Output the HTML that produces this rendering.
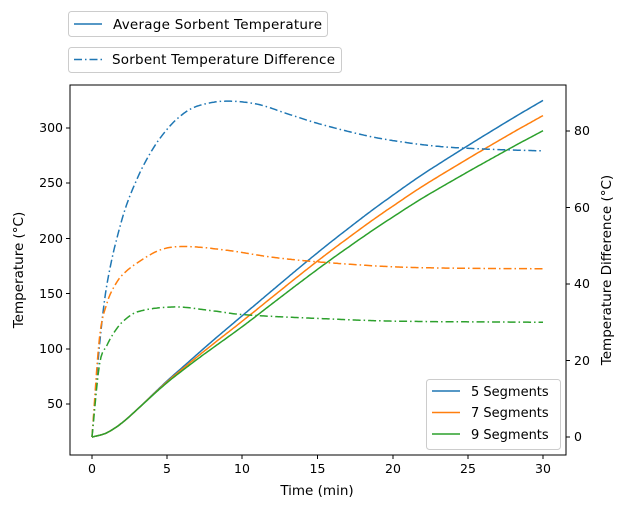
<!DOCTYPE html>
<html><head><meta charset="utf-8"><style>
body{margin:0;background:#fff;}
svg{font-family:"DejaVu Sans",sans-serif;}
</style></head><body>
<svg id="s" width="626" height="507" xmlns="http://www.w3.org/2000/svg">
<rect width="626" height="507" fill="#fff"/>
<g id="plot"></g>
<rect x="70" y="85" width="496" height="370" fill="none" stroke="#000" stroke-width="1"/>
<g font-size="12.5" fill="#000">
<g stroke="#000"><line x1="92" y1="455" x2="92" y2="459"/><line x1="167" y1="455" x2="167" y2="459"/><line x1="242" y1="455" x2="242" y2="459"/><line x1="317.5" y1="455" x2="317.5" y2="459"/><line x1="393" y1="455" x2="393" y2="459"/><line x1="468" y1="455" x2="468" y2="459"/><line x1="543" y1="455" x2="543" y2="459"/></g>
<g text-anchor="middle"><text x="92" y="473">0</text><text x="167" y="473">5</text><text x="242" y="473">10</text><text x="317.5" y="473">15</text><text x="393" y="473">20</text><text x="468" y="473">25</text><text x="543" y="473">30</text></g>
<text x="317" y="495" text-anchor="middle" font-size="13.5">Time (min)</text>
<g stroke="#000"><line x1="66" y1="404" x2="70" y2="404"/><line x1="66" y1="349" x2="70" y2="349"/><line x1="66" y1="293.5" x2="70" y2="293.5"/><line x1="66" y1="238.5" x2="70" y2="238.5"/><line x1="66" y1="183" x2="70" y2="183"/><line x1="66" y1="128" x2="70" y2="128"/></g>
<g text-anchor="end"><text x="63" y="408">50</text><text x="63" y="353">100</text><text x="63" y="298">150</text><text x="63" y="243">200</text><text x="63" y="187">250</text><text x="63" y="132">300</text></g>
<text transform="translate(23,270) rotate(-90)" text-anchor="middle" font-size="13.5">Temperature (°C)</text>
<g stroke="#000"><line x1="566" y1="437" x2="570" y2="437"/><line x1="566" y1="360.5" x2="570" y2="360.5"/><line x1="566" y1="284" x2="570" y2="284"/><line x1="566" y1="207.5" x2="570" y2="207.5"/><line x1="566" y1="131" x2="570" y2="131"/></g>
<g><text x="574" y="441">0</text><text x="574" y="365">20</text><text x="574" y="288">40</text><text x="574" y="212">60</text><text x="574" y="135">80</text></g>
<text transform="translate(611,270) rotate(-90)" text-anchor="middle" font-size="13.5">Temperature Difference (°C)</text>
</g>
<rect x="68.5" y="11.5" width="259" height="25" rx="3" fill="#fff" stroke="#ccc"/>
<line x1="74" y1="24" x2="102" y2="24" stroke="#1f77b4" stroke-width="1.5"/>
<text x="113" y="29" font-size="13.5" textLength="209">Average Sorbent Temperature</text>
<rect x="68.5" y="47.5" width="273" height="25" rx="3" fill="#fff" stroke="#ccc"/>
<line x1="74" y1="59.5" x2="102" y2="59.5" stroke="#1f77b4" stroke-width="1.5" stroke-dasharray="8,3,1.5,3"/>
<text x="112" y="64" font-size="13.5" textLength="223">Sorbent Temperature Difference</text>
<rect x="426.5" y="379.5" width="134" height="70" rx="3" fill="#fff" fill-opacity="0.8" stroke="#ccc"/>
<line x1="432" y1="391" x2="460" y2="391" stroke="#1f77b4" stroke-width="1.5"/>
<text x="471" y="396" font-size="13">5 Segments</text>
<line x1="432" y1="412.5" x2="460" y2="412.5" stroke="#ff7f0e" stroke-width="1.5"/>
<text x="471" y="417" font-size="13">7 Segments</text>
<line x1="432" y1="434" x2="460" y2="434" stroke="#2ca02c" stroke-width="1.5"/>
<text x="471" y="439" font-size="13">9 Segments</text>
</svg>
<script>
var X=t=>92+t*15.033, YL=T=>404-(T-50)*1.104, YR=v=>437-v*3.825;
function interp(pts,t){for(var i=0;i<pts.length-1;i++){if(t<=pts[i+1][0]){var a=pts[i],b=pts[i+1];
var p0=pts[Math.max(i-1,0)],p3=pts[Math.min(i+2,pts.length-1)];var u=(t-a[0])/(b[0]-a[0]);
var m1=(b[1]-p0[1])/(b[0]-p0[0])*(b[0]-a[0]),m2=(p3[1]-a[1])/(p3[0]-a[0])*(b[0]-a[0]);
var h00=2*u*u*u-3*u*u+1,h10=u*u*u-2*u*u+u,h01=-2*u*u*u+3*u*u,h11=u*u*u-u*u;
return h00*a[1]+h10*m1+h01*b[1]+h11*m2;}}return pts[pts.length-1][1];}
function path(pts,Y,col,dash){var d="";for(var t=0;t<=30.001;t+=0.1){d+=(d?"L":"M")+X(t).toFixed(1)+","+Y(interp(pts,t)).toFixed(1);}
return '<path d="'+d+'" fill="none" stroke="'+col+'" stroke-width="1.5"'+(dash?' stroke-dasharray="8,3,1.5,3"':'')+'/>';}
var avgB=[[0,20],[1,24],[2,33],[3,45],[4,58],[5,71],[6,83],[7,95],[8,107],[10,130],[12,153],[15,187],[18,219],[20,239],[22,258],[25,284],[28,309],[30,325]];
function scale(p,k){return p.map(q=>[q[0],20+(q[1]-20)*(1-(1-k)*Math.min(1,Math.max(0,(q[0]-3)/6)))]);}
var avgO=scale(avgB,0.955),avgG=scale(avgB,0.91);
var dB=[[0,0],[0.5,24],[1,40],[2,57],[3,67.5],[4,75],[5,80.5],[6,84.3],[7,86.5],[8.8,87.8],[11,87],[13,84.5],[15,82],[18,79],[20,77.5],[23,76],[26,75.3],[30,74.8]];
var dO=[[0,0],[0.5,26],[1,35],[1.5,39.5],[2,42.3],[3,45.5],[4.6,49],[6.2,49.8],[9,48.8],[12,47],[15,45.8],[20,44.5],[25,44.1],[30,44]];
var dG=[[0,0],[0.5,19],[1,24],[1.5,27.5],[2,30],[3,32.7],[5.5,34],[8,33],[10,32],[15,31],[20,30.3],[30,30]];
document.getElementById("plot").innerHTML=
path(avgB,YL,"#1f77b4")+path(avgO,YL,"#ff7f0e")+path(avgG,YL,"#2ca02c")+
path(dB,YR,"#1f77b4",1)+path(dO,YR,"#ff7f0e",1)+path(dG,YR,"#2ca02c",1);
</script>
</body></html>
